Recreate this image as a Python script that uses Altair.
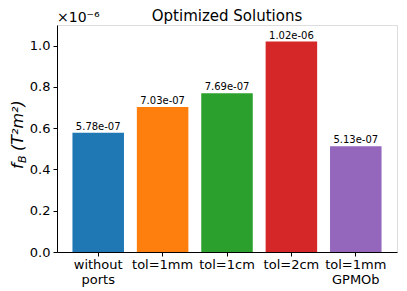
import altair as alt
import pandas as pd

categories = ["without ports", "tol=1mm", "tol=1cm", "tol=2cm", "tol=1mm GPMOb"]
values = [5.78e-07, 7.03e-07, 7.69e-07, 1.02e-06, 5.13e-07]
labels = ["5.78e-07", "7.03e-07", "7.69e-07", "1.02e-06", "5.13e-07"]
colors = ["#1f77b4", "#ff7f0e", "#2ca02c", "#d62728", "#9467bd"]
y_ticks = [0.0, 0.2, 0.4, 0.6, 0.8, 1.0]

df = pd.DataFrame({
    "cat": categories,
    "val": [v * 1e6 for v in values],
    "label": labels,
})

FONT = "DejaVu Sans"
W, H = 340, 227

x = alt.X("cat:N", sort=categories, title=None,
          scale=alt.Scale(paddingInner=0.2, paddingOuter=0.24),
          axis=alt.Axis(labelAngle=0, labelFontSize=13, labelFont=FONT, labelColor="black",
                        labelExpr="split(datum.label, ' ')", labelLineHeight=15,
                        tickColor="black", tickSize=4, domainColor="black", labelPadding=2))
y = alt.Y("val:Q", title=None,
          scale=alt.Scale(domain=[0, 1.1], nice=False),
          axis=alt.Axis(values=y_ticks, format=".1f", labelFontSize=13, labelFont=FONT,
                        labelColor="black", tickColor="black", tickSize=4,
                        domainColor="black", grid=False, labelPadding=3))

base = alt.Chart(df)
bars = base.mark_bar().encode(
    x=x, y=y,
    color=alt.Color("cat:N", sort=categories,
                    scale=alt.Scale(domain=categories, range=colors), legend=None),
)
texts = base.mark_text(baseline="bottom", dy=-1, fontSize=10, font=FONT, color="black").encode(
    x=alt.X("cat:N", sort=categories), y="val:Q", text="label:N")

one = pd.DataFrame({"a": [0]})
offset = alt.Chart(one).mark_text(align="left", baseline="alphabetic", fontSize=14, font=FONT,
                                  color="black").encode(
    x=alt.value(0), y=alt.value(-3), text=alt.value("×10⁻⁶"))
title_txt = alt.Chart(one).mark_text(align="center", baseline="alphabetic", fontSize=15, font=FONT,
                                     color="black").encode(
    x=alt.value(W / 2), y=alt.value(-4), text=alt.value("Optimized Solutions"))

ty = 144
bx = -34
yt_f = alt.Chart(one).mark_text(align="left", baseline="alphabetic", angle=270, fontSize=16,
                                fontStyle="italic", font=FONT, color="black").encode(
    x=alt.value(bx), y=alt.value(ty), text=alt.value("f"))
yt_b = alt.Chart(one).mark_text(align="left", baseline="alphabetic", angle=270, fontSize=11,
                                fontStyle="italic", font=FONT, color="black").encode(
    x=alt.value(bx + 3), y=alt.value(ty - 6), text=alt.value("B"))
yt_rest = alt.Chart(one).mark_text(align="left", baseline="alphabetic", angle=270, fontSize=16,
                                   fontStyle="italic", font=FONT, color="black").encode(
    x=alt.value(bx), y=alt.value(ty - 18), text=alt.value("(T²m²)"))

chart = alt.layer(bars, texts, offset, title_txt, yt_f, yt_b, yt_rest).properties(
    width=W, height=H,
    autosize=alt.AutoSizeParams(type="none"),
    padding={"left": 49, "top": 17, "right": 2, "bottom": 50},
).configure_view(stroke="black", strokeWidth=1).configure(background="white")

chart.save("out.html", embed_options={"renderer": "svg", "actions": False})
